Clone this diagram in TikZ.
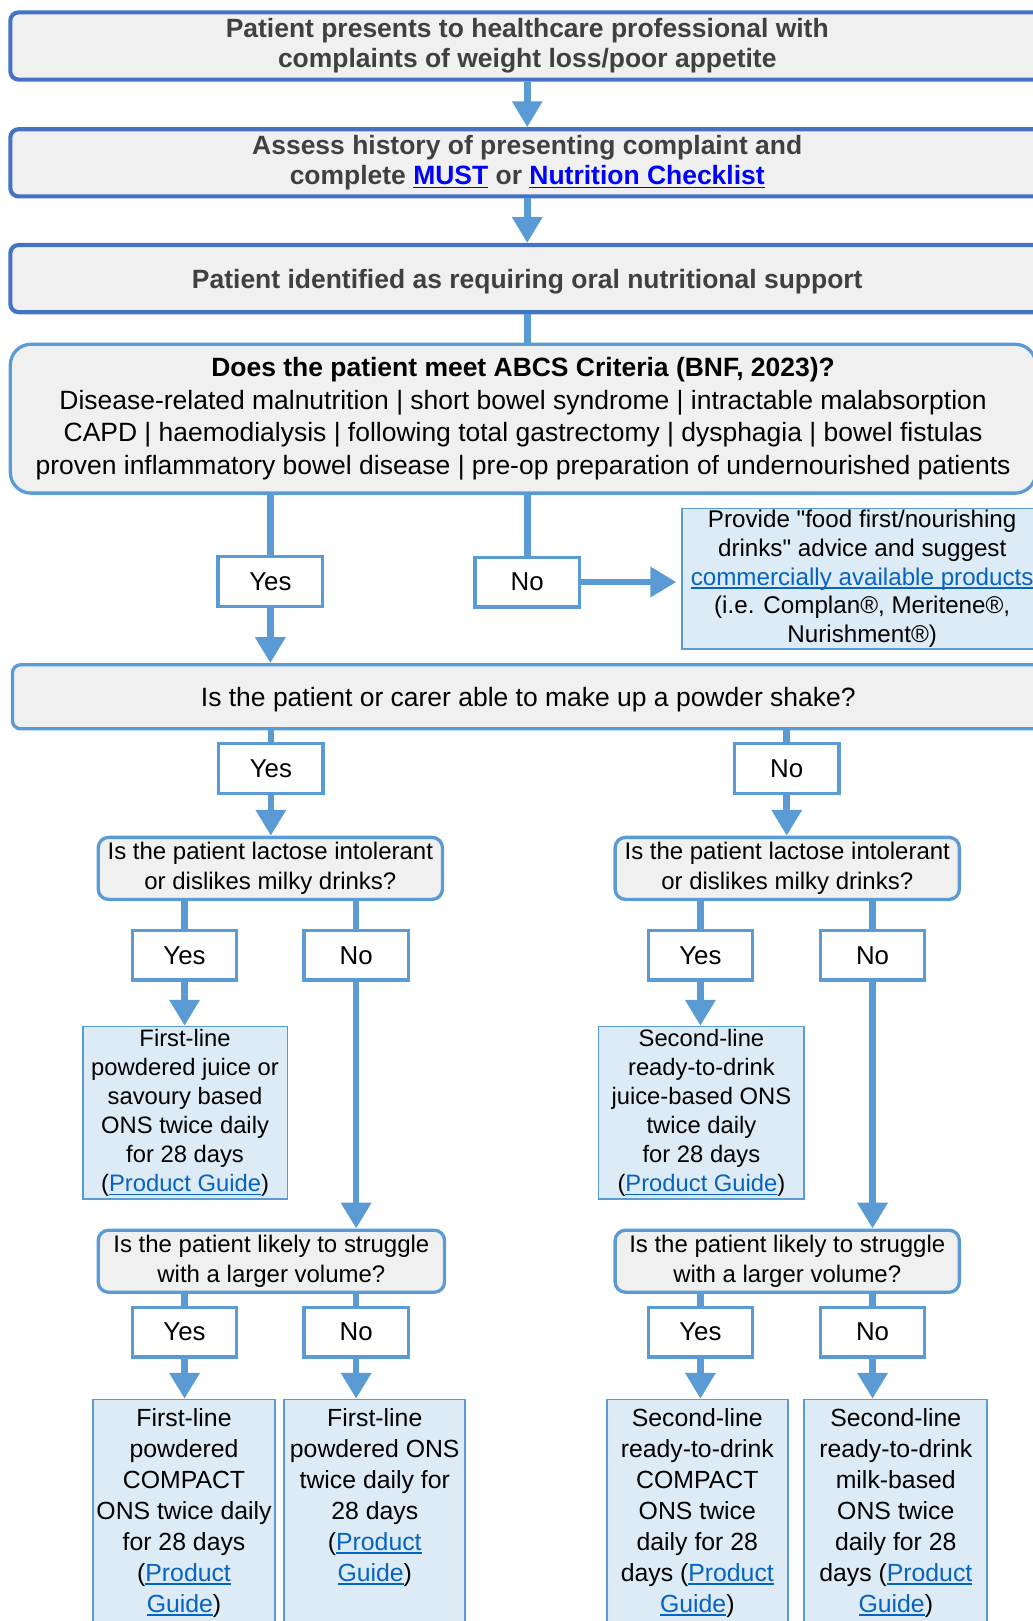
\documentclass[tikz,border=0pt]{standalone}
\usepackage{fontspec}
\setmainfont{Liberation Sans}[Ligatures=TeXOff]
\usetikzlibrary{arrows.meta}
\usetikzlibrary{positioning}
\usetikzlibrary{calc}

\definecolor{frameblue}{HTML}{4472C4}
\definecolor{lineblue}{HTML}{5B9BD5}
\definecolor{boxgray}{HTML}{F0F0F0}
\definecolor{ansfill}{HTML}{DDEBF7}
\definecolor{linkblue}{HTML}{0563C1}
\definecolor{hotblue}{HTML}{0000FF}
\definecolor{headgray}{HTML}{404040}

\newsavebox{\ulsave}
\newcommand{\uln}[1]{\sbox{\ulsave}{#1}\rlap{\rule[-1.7pt]{\wd\ulsave}{0.6pt}}\usebox{\ulsave}}
\newcommand{\lnk}[1]{\textcolor{linkblue}{\uln{#1}}}
\newcommand{\hotlnk}[1]{\textcolor{hotblue}{\uln{#1}}}

\tikzset{
  stepbox/.style={draw=frameblue, line width=2pt, fill=boxgray, rounded corners=4pt,
    inner sep=0pt, align=center, text=headgray, minimum width=500pt, minimum height=32.5pt,
    font=\fontsize{12.8}{14.5}\selectfont\bfseries},
  critbox/.style={draw=lineblue, line width=1.6pt, fill=boxgray, rounded corners=10pt,
    inner sep=0pt, align=center, font=\fontsize{12.8}{15.7}\selectfont},
  qbox/.style={draw=lineblue, line width=1.6pt, fill=boxgray, rounded corners=5pt,
    inner sep=0pt, align=center, minimum height=30pt, font=\fontsize{11.6}{14.5}\selectfont},
  yn/.style={draw=lineblue, line width=1.6pt, fill=white, inner sep=0pt,
    minimum width=50.5pt, minimum height=24pt, font=\fontsize{12.5}{15}\selectfont},
  ans/.style={draw=lineblue, line width=0.8pt, fill=ansfill, inner sep=0pt,
    align=center, font=\fontsize{11.5}{14}\selectfont},
  botbox/.style={ans, anchor=north, inner ysep=2.3pt, font=\fontsize{12}{15}\selectfont},
  seg/.style={draw=lineblue, line width=3.2pt},
  arr/.style={seg, -{Triangle[width=14pt,length=12.5pt]}},
}

\begin{document}
\begin{tikzpicture}[x=0.5pt, y=-0.5pt]

  \useasboundingbox (0,0) rectangle (999,1568);

  %top steps
  \node[stepbox] (present) at (510,44.5) {Patient presents to healthcare professional with\\complaints of weight loss/poor appetite};
  \node[stepbox] (assess) at (510,157.5) {Assess history of presenting complaint and\\complete \hotlnk{MUST} or \hotlnk{Nutrition Checklist}};
  \node[stepbox, text depth=0pt] (needs) at (510,269.5) {Patient identified as requiring oral nutritional support};

  \node[critbox, minimum width=496pt, minimum height=72pt] (abcs) at (506,405)
     {\textbf{Does the patient meet ABCS Criteria (BNF, 2023)?}\\
      Disease-related malnutrition | short bowel syndrome | intractable malabsorption\\
      CAPD | haemodialysis | following total gastrectomy | dysphagia | bowel fistulas\\
      proven inflammatory bowel disease | pre-op preparation of undernourished patients};

  \node[ans, minimum width=174pt, minimum height=68pt, font=\fontsize{11.7}{13.9}\selectfont] (advice) at (834,560)
     {Provide "food first/nourishing\\drinks" advice and suggest\\\lnk{commercially available products}\\(i.e. Complan®, Meritene®,\\Nurishment®)};

  \node[critbox, rounded corners=4pt, minimum width=499pt, minimum height=31pt, text depth=0pt] (shake) at (511,674)
     {Is the patient or carer able to make up a powder shake?};

  %questions
  \node[qbox, minimum width=166.5pt] (qL) at (261.5,840) {Is the patient lactose intolerant\\or dislikes milky drinks?};
  \node[qbox, minimum width=166.5pt] (qR) at (761.5,840) {Is the patient lactose intolerant\\or dislikes milky drinks?};
  \node[qbox, minimum width=167.5pt] (qLL) at (262.5,1220) {Is the patient likely to struggle\\with a larger volume?};
  \node[qbox, minimum width=166.5pt] (qRR) at (761.5,1220) {Is the patient likely to struggle\\with a larger volume?};

  %answers
  \node[ans, minimum width=99pt, minimum height=83.5pt] (ansL) at (179,1076.5)
     {First-line\\powdered juice or\\savoury based\\ONS twice daily\\for 28 days\\(\lnk{Product Guide})};
  \node[ans, minimum width=99.5pt, minimum height=83.5pt] (ansR) at (678.5,1076.5)
     {Second-line\\ready-to-drink\\juice-based ONS\\twice daily\\for 28 days\\(\lnk{Product Guide})};

  \node[botbox] (botA) at (178,1353) {\parbox[t][125pt][t]{88pt}{\centering\strut First-line\\powdered\\COMPACT\\ONS twice daily\\for 28 days\\(\lnk{Product}\\\lnk{Guide})}};
  \node[botbox] (botB) at (362.5,1353) {\parbox[t][125pt][t]{87.5pt}{\centering\strut First-line\\powdered ONS\\twice daily for\\28 days\\(\lnk{Product}\\\lnk{Guide})}};
  \node[botbox] (botC) at (674.5,1353) {\parbox[t][125pt][t]{87.5pt}{\centering\strut Second-line\\ready-to-drink\\COMPACT\\ONS twice\\daily for 28\\days (\lnk{Product}\\\lnk{Guide})}};
  \node[botbox] (botD) at (866.5,1353) {\parbox[t][125pt][t]{88.5pt}{\centering\strut Second-line\\ready-to-drink\\milk-based\\ONS twice\\daily for 28\\days (\lnk{Product}\\\lnk{Guide})}};

  %yes / no tags
  \foreach \name/\x/\y/\txt in {yesA/261.5/562.5/Yes, noA/510/563/No, yesB/262/743.5/Yes, noB/761/743.5/No,
        yesL/178.5/924/Yes, noL/344.5/924/No, yesR/677.5/924/Yes, noR/844/924/No,
        yesLL/178.5/1288.5/Yes, noLL/344.5/1288.5/No, yesRR/677.5/1288.5/Yes, noRR/844/1288.5/No}{
      \node[yn] (\name) at (\x,\y) {\txt};
  }

  %connectors
  \draw[arr] (present) -- (assess);
  \draw[arr] (assess) -- (needs);
  \draw[seg] (needs.south) -- (needs.south |- abcs.north);

  \foreach \src/\tag/\dst in {abcs/yesA/shake, shake/yesB/qL, shake/noB/qR,
        qL/yesL/ansL, qL/noL/qLL, qR/yesR/ansR, qR/noR/qRR,
        qLL/yesLL/botA, qLL/noLL/botB, qRR/yesRR/botC, qRR/noRR/botD}{
      \draw[seg] (\tag |- \src.south) -- (\tag.north);
      \draw[arr] (\tag.south) -- (\tag |- \dst.north);
  }

  \draw[seg] (noA |- abcs.south) -- (noA.north);
  \draw[arr, shorten >=2.5pt] (noA.east) -- (noA -| advice.west);

\end{tikzpicture}
\end{document}
